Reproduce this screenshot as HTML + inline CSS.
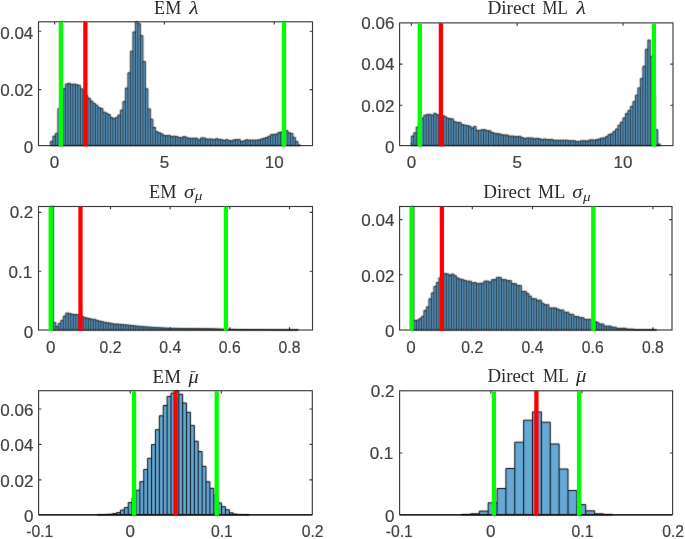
<!DOCTYPE html>
<html><head><meta charset="utf-8"><title>Histograms</title>
<style>
html,body{margin:0;padding:0;background:#fff;}
body{width:685px;height:539px;overflow:hidden;}
svg{display:block;will-change:transform;}
.tl{font-family:"Liberation Sans", sans-serif;font-size:17.0px;fill:#424242;stroke:#424242;stroke-width:0.2px;}
.tt{font-family:"Liberation Serif", serif;font-size:18.4px;fill:#2a2a2a;}
.ti{font-family:"Liberation Serif", serif;font-size:18.4px;font-style:italic;fill:#2a2a2a;}
.ts{font-family:"Liberation Serif", serif;font-size:12.5px;font-style:italic;fill:#2a2a2a;}
</style></head><body>
<svg width="685" height="539" viewBox="0 0 685 539">
<defs><filter id="bl" x="-2%" y="-5%" width="104%" height="110%" color-interpolation-filters="sRGB"><feConvolveMatrix order="3" kernelMatrix="0.03 0.12 0.03 0.12 0.40 0.12 0.03 0.12 0.03" edgeMode="none" preserveAlpha="false"/></filter><filter id="bl2" x="-2%" y="-5%" width="104%" height="110%" color-interpolation-filters="sRGB"><feConvolveMatrix order="3" kernelMatrix="0.015 0.085 0.015 0.085 0.60 0.085 0.015 0.085 0.015" edgeMode="none" preserveAlpha="false"/></filter></defs>
<rect width="685" height="539" fill="#fff"/>
<g>
<rect x="38.5" y="21.8" width="274.00" height="123.80" fill="#fff" stroke="#3c3c3c" stroke-width="1.15"/>
<path d="M54.6 145.6v-2.8M54.6 21.8v2.8" stroke="#3c3c3c" stroke-width="1.15" fill="none"/>
<path d="M164.4 145.6v-2.8M164.4 21.8v2.8" stroke="#3c3c3c" stroke-width="1.15" fill="none"/>
<path d="M274.2 145.6v-2.8M274.2 21.8v2.8" stroke="#3c3c3c" stroke-width="1.15" fill="none"/>
<path d="M38.5 31.2h2.8M312.5 31.2h-2.8" stroke="#3c3c3c" stroke-width="1.15" fill="none"/>
<path d="M38.5 89.6h2.8M312.5 89.6h-2.8" stroke="#3c3c3c" stroke-width="1.15" fill="none"/>
<g filter="url(#bl)"><path d="M50.40 145.60V141.40H52.90V136.10H55.40V133.40H57.90V108.60H60.40V95.60H62.90V88.60H65.40V84.00H67.90V83.30H70.40V84.40H72.90V84.00H75.40V84.60H77.90V85.30H80.40V88.80H82.90V90.90H85.40V95.80H87.90V98.30H90.40V101.10H92.90V103.40H95.40V105.20H97.90V107.60H100.40V108.60H102.90V112.20H105.40V113.20H107.90V114.60H110.40V117.50H112.90V118.70H115.40V117.50H117.90V115.00H120.40V110.10H122.90V101.60H125.40V88.10H127.90V72.80H130.40V51.20H132.90V32.00H135.40V21.80H137.90V23.60H140.40V35.60H142.90V61.60H145.40V88.80H147.90V108.90H150.40V119.20H152.90V127.50H155.40V131.60H157.90V132.70H160.40V133.80H162.90V135.40H165.40V135.60H167.90V135.40H170.40V136.50H172.90V136.20H175.40V136.50H177.90V137.40H180.40V137.60H182.90V136.50H185.40V137.40H187.90V138.20H190.40V138.20H192.90V138.20H195.40V138.20H197.90V140.00H200.40V137.90H202.90V137.90H205.40V139.00H207.90V139.00H210.40V139.00H212.90V139.60H215.40V138.70H217.90V139.40H220.40V139.60H222.90V140.50H225.40V139.60H227.90V140.50H230.40V140.70H232.90V139.80H235.40V139.60H237.90V139.60H240.40V141.50H242.90V140.70H245.40V139.80H247.90V140.10H250.40V140.10H252.90V140.10H255.40V140.10H257.90V139.80H260.40V139.00H262.90V138.30H265.40V137.50H267.90V136.40H270.40V134.50H272.90V134.30H275.40V134.00H277.90V132.50H280.40V131.90H282.90V131.10H285.40V130.50H287.90V132.80H290.40V133.40H292.90V137.40H295.40V141.40H297.90V145.00H300.40V145.60Z" fill="#66a9d6" stroke="none"/><path d="M50.40 145.60V141.40H52.90V136.10H55.40V133.40H57.90V108.60H60.40V95.60H62.90V88.60H65.40V84.00H67.90V83.30H70.40V84.40H72.90V84.00H75.40V84.60H77.90V85.30H80.40V88.80H82.90V90.90H85.40V95.80H87.90V98.30H90.40V101.10H92.90V103.40H95.40V105.20H97.90V107.60H100.40V108.60H102.90V112.20H105.40V113.20H107.90V114.60H110.40V117.50H112.90V118.70H115.40V117.50H117.90V115.00H120.40V110.10H122.90V101.60H125.40V88.10H127.90V72.80H130.40V51.20H132.90V32.00H135.40V21.80H137.90V23.60H140.40V35.60H142.90V61.60H145.40V88.80H147.90V108.90H150.40V119.20H152.90V127.50H155.40V131.60H157.90V132.70H160.40V133.80H162.90V135.40H165.40V135.60H167.90V135.40H170.40V136.50H172.90V136.20H175.40V136.50H177.90V137.40H180.40V137.60H182.90V136.50H185.40V137.40H187.90V138.20H190.40V138.20H192.90V138.20H195.40V138.20H197.90V140.00H200.40V137.90H202.90V137.90H205.40V139.00H207.90V139.00H210.40V139.00H212.90V139.60H215.40V138.70H217.90V139.40H220.40V139.60H222.90V140.50H225.40V139.60H227.90V140.50H230.40V140.70H232.90V139.80H235.40V139.60H237.90V139.60H240.40V141.50H242.90V140.70H245.40V139.80H247.90V140.10H250.40V140.10H252.90V140.10H255.40V140.10H257.90V139.80H260.40V139.00H262.90V138.30H265.40V137.50H267.90V136.40H270.40V134.50H272.90V134.30H275.40V134.00H277.90V132.50H280.40V131.90H282.90V131.10H285.40V130.50H287.90V132.80H290.40V133.40H292.90V137.40H295.40V141.40H297.90V145.00H300.40V145.60ZM52.90 145.60V141.40M55.40 145.60V136.10M57.90 145.60V133.40M60.40 145.60V108.60M62.90 145.60V95.60M65.40 145.60V88.60M67.90 145.60V84.00M70.40 145.60V84.40M72.90 145.60V84.40M75.40 145.60V84.60M77.90 145.60V85.30M80.40 145.60V88.80M82.90 145.60V90.90M85.40 145.60V95.80M87.90 145.60V98.30M90.40 145.60V101.10M92.90 145.60V103.40M95.40 145.60V105.20M97.90 145.60V107.60M100.40 145.60V108.60M102.90 145.60V112.20M105.40 145.60V113.20M107.90 145.60V114.60M110.40 145.60V117.50M112.90 145.60V118.70M115.40 145.60V118.70M117.90 145.60V117.50M120.40 145.60V115.00M122.90 145.60V110.10M125.40 145.60V101.60M127.90 145.60V88.10M130.40 145.60V72.80M132.90 145.60V51.20M135.40 145.60V32.00M137.90 145.60V23.60M140.40 145.60V35.60M142.90 145.60V61.60M145.40 145.60V88.80M147.90 145.60V108.90M150.40 145.60V119.20M152.90 145.60V127.50M155.40 145.60V131.60M157.90 145.60V132.70M160.40 145.60V133.80M162.90 145.60V135.40M165.40 145.60V135.60M167.90 145.60V135.60M170.40 145.60V136.50M172.90 145.60V136.50M175.40 145.60V136.50M177.90 145.60V137.40M180.40 145.60V137.60M182.90 145.60V137.60M185.40 145.60V137.40M187.90 145.60V138.20M190.40 145.60V138.20M192.90 145.60V138.20M195.40 145.60V138.20M197.90 145.60V140.00M200.40 145.60V140.00M202.90 145.60V137.90M205.40 145.60V139.00M207.90 145.60V139.00M210.40 145.60V139.00M212.90 145.60V139.60M215.40 145.60V139.60M217.90 145.60V139.40M220.40 145.60V139.60M222.90 145.60V140.50M225.40 145.60V140.50M227.90 145.60V140.50M230.40 145.60V140.70M232.90 145.60V140.70M235.40 145.60V139.80M237.90 145.60V139.60M240.40 145.60V141.50M242.90 145.60V141.50M245.40 145.60V140.70M247.90 145.60V140.10M250.40 145.60V140.10M252.90 145.60V140.10M255.40 145.60V140.10M257.90 145.60V140.10M260.40 145.60V139.80M262.90 145.60V139.00M265.40 145.60V138.30M267.90 145.60V137.50M270.40 145.60V136.40M272.90 145.60V134.50M275.40 145.60V134.30M277.90 145.60V134.00M280.40 145.60V132.50M282.90 145.60V131.90M285.40 145.60V131.10M287.90 145.60V132.80M290.40 145.60V133.40M292.90 145.60V137.40M295.40 145.60V141.40M297.90 145.60V145.00" fill="none" stroke="#000000" stroke-width="0.87" stroke-linejoin="miter"/></g>
<rect x="58.75" y="22.00" width="4.3" height="124.40" fill="#00ff00"/>
<rect x="281.85" y="22.00" width="4.3" height="124.40" fill="#00ff00"/>
<rect x="83.25" y="22.00" width="4.3" height="124.40" fill="#ff0000"/>
<text x="54.6" y="168.10" text-anchor="middle" class="tl">0</text>
<text x="164.4" y="168.10" text-anchor="middle" class="tl">5</text>
<text x="274.2" y="168.10" text-anchor="middle" class="tl">10</text>
<text x="33.30" y="38.90" text-anchor="end" class="tl">0.04</text>
<text x="33.30" y="95.80" text-anchor="end" class="tl">0.02</text>
<text x="33.30" y="153.10" text-anchor="end" class="tl">0</text>
<!--title-->
<text x="154.1" y="13.9" class="tt" textLength="27.2" lengthAdjust="spacingAndGlyphs">EM</text><text x="189.2" y="13.9" class="ti" textLength="9.3" lengthAdjust="spacingAndGlyphs">λ</text>
</g>
<g>
<rect x="399.6" y="22.9" width="273.40" height="122.70" fill="#fff" stroke="#3c3c3c" stroke-width="1.15"/>
<path d="M411.4 145.6v-2.8M411.4 22.9v2.8" stroke="#3c3c3c" stroke-width="1.15" fill="none"/>
<path d="M517.2 145.6v-2.8M517.2 22.9v2.8" stroke="#3c3c3c" stroke-width="1.15" fill="none"/>
<path d="M623.0 145.6v-2.8M623.0 22.9v2.8" stroke="#3c3c3c" stroke-width="1.15" fill="none"/>
<path d="M399.6 64.2h2.8M673.0 64.2h-2.8" stroke="#3c3c3c" stroke-width="1.15" fill="none"/>
<path d="M399.6 105.2h2.8M673.0 105.2h-2.8" stroke="#3c3c3c" stroke-width="1.15" fill="none"/>
<g filter="url(#bl)"><path d="M411.30 145.60V136.10H413.79V132.80H416.28V127.00H418.77V121.60H421.26V118.20H423.75V115.30H426.24V114.40H428.73V114.40H431.22V115.30H433.71V113.30H436.20V114.70H438.69V115.10H441.18V115.30H443.67V116.40H446.16V118.00H448.65V118.60H451.14V118.90H453.63V121.80H456.12V122.40H458.61V122.40H461.10V124.60H463.59V125.10H466.08V125.50H468.57V126.20H471.06V128.00H473.55V126.40H476.04V130.30H478.53V130.30H481.02V129.70H483.51V129.70H486.00V130.60H488.49V130.80H490.98V132.50H493.47V133.20H495.96V133.60H498.45V133.90H500.94V134.70H503.43V135.00H505.92V135.00H508.41V136.10H510.90V136.10H513.39V136.30H515.88V136.80H518.37V136.30H520.86V137.40H523.35V138.50H525.84V137.90H528.33V137.90H530.82V137.90H533.31V138.70H535.80V138.30H538.29V138.70H540.78V139.60H543.27V139.00H545.76V139.50H548.25V139.50H550.74V139.50H553.23V140.20H555.72V140.20H558.21V140.20H560.70V140.20H563.19V140.20H565.68V140.20H568.17V140.70H570.66V140.70H573.15V140.70H575.64V141.40H578.13V141.40H580.62V140.70H583.11V140.70H585.60V141.00H588.09V140.20H590.58V139.80H593.07V140.20H595.56V139.60H598.05V139.00H600.54V138.00H603.03V138.00H605.52V136.60H608.01V134.50H610.50V133.80H612.99V131.50H615.48V129.00H617.97V125.10H620.46V122.10H622.95V117.90H625.44V113.60H627.93V110.40H630.42V106.40H632.91V101.60H635.40V95.20H637.89V87.90H640.38V78.60H642.87V66.30H645.36V49.30H647.85V40.10H650.34V56.60H652.83V95.60H655.32V129.80H657.81V144.10H660.30V145.60Z" fill="#66a9d6" stroke="none"/><path d="M411.30 145.60V136.10H413.79V132.80H416.28V127.00H418.77V121.60H421.26V118.20H423.75V115.30H426.24V114.40H428.73V114.40H431.22V115.30H433.71V113.30H436.20V114.70H438.69V115.10H441.18V115.30H443.67V116.40H446.16V118.00H448.65V118.60H451.14V118.90H453.63V121.80H456.12V122.40H458.61V122.40H461.10V124.60H463.59V125.10H466.08V125.50H468.57V126.20H471.06V128.00H473.55V126.40H476.04V130.30H478.53V130.30H481.02V129.70H483.51V129.70H486.00V130.60H488.49V130.80H490.98V132.50H493.47V133.20H495.96V133.60H498.45V133.90H500.94V134.70H503.43V135.00H505.92V135.00H508.41V136.10H510.90V136.10H513.39V136.30H515.88V136.80H518.37V136.30H520.86V137.40H523.35V138.50H525.84V137.90H528.33V137.90H530.82V137.90H533.31V138.70H535.80V138.30H538.29V138.70H540.78V139.60H543.27V139.00H545.76V139.50H548.25V139.50H550.74V139.50H553.23V140.20H555.72V140.20H558.21V140.20H560.70V140.20H563.19V140.20H565.68V140.20H568.17V140.70H570.66V140.70H573.15V140.70H575.64V141.40H578.13V141.40H580.62V140.70H583.11V140.70H585.60V141.00H588.09V140.20H590.58V139.80H593.07V140.20H595.56V139.60H598.05V139.00H600.54V138.00H603.03V138.00H605.52V136.60H608.01V134.50H610.50V133.80H612.99V131.50H615.48V129.00H617.97V125.10H620.46V122.10H622.95V117.90H625.44V113.60H627.93V110.40H630.42V106.40H632.91V101.60H635.40V95.20H637.89V87.90H640.38V78.60H642.87V66.30H645.36V49.30H647.85V40.10H650.34V56.60H652.83V95.60H655.32V129.80H657.81V144.10H660.30V145.60ZM413.79 145.60V136.10M416.28 145.60V132.80M418.77 145.60V127.00M421.26 145.60V121.60M423.75 145.60V118.20M426.24 145.60V115.30M428.73 145.60V114.40M431.22 145.60V115.30M433.71 145.60V115.30M436.20 145.60V114.70M438.69 145.60V115.10M441.18 145.60V115.30M443.67 145.60V116.40M446.16 145.60V118.00M448.65 145.60V118.60M451.14 145.60V118.90M453.63 145.60V121.80M456.12 145.60V122.40M458.61 145.60V122.40M461.10 145.60V124.60M463.59 145.60V125.10M466.08 145.60V125.50M468.57 145.60V126.20M471.06 145.60V128.00M473.55 145.60V128.00M476.04 145.60V130.30M478.53 145.60V130.30M481.02 145.60V130.30M483.51 145.60V129.70M486.00 145.60V130.60M488.49 145.60V130.80M490.98 145.60V132.50M493.47 145.60V133.20M495.96 145.60V133.60M498.45 145.60V133.90M500.94 145.60V134.70M503.43 145.60V135.00M505.92 145.60V135.00M508.41 145.60V136.10M510.90 145.60V136.10M513.39 145.60V136.30M515.88 145.60V136.80M518.37 145.60V136.80M520.86 145.60V137.40M523.35 145.60V138.50M525.84 145.60V138.50M528.33 145.60V137.90M530.82 145.60V137.90M533.31 145.60V138.70M535.80 145.60V138.70M538.29 145.60V138.70M540.78 145.60V139.60M543.27 145.60V139.60M545.76 145.60V139.50M548.25 145.60V139.50M550.74 145.60V139.50M553.23 145.60V140.20M555.72 145.60V140.20M558.21 145.60V140.20M560.70 145.60V140.20M563.19 145.60V140.20M565.68 145.60V140.20M568.17 145.60V140.70M570.66 145.60V140.70M573.15 145.60V140.70M575.64 145.60V141.40M578.13 145.60V141.40M580.62 145.60V141.40M583.11 145.60V140.70M585.60 145.60V141.00M588.09 145.60V141.00M590.58 145.60V140.20M593.07 145.60V140.20M595.56 145.60V140.20M598.05 145.60V139.60M600.54 145.60V139.00M603.03 145.60V138.00M605.52 145.60V138.00M608.01 145.60V136.60M610.50 145.60V134.50M612.99 145.60V133.80M615.48 145.60V131.50M617.97 145.60V129.00M620.46 145.60V125.10M622.95 145.60V122.10M625.44 145.60V117.90M627.93 145.60V113.60M630.42 145.60V110.40M632.91 145.60V106.40M635.40 145.60V101.60M637.89 145.60V95.20M640.38 145.60V87.90M642.87 145.60V78.60M645.36 145.60V66.30M647.85 145.60V49.30M650.34 145.60V56.60M652.83 145.60V95.60M655.32 145.60V129.80M657.81 145.60V144.10" fill="none" stroke="#000000" stroke-width="0.87" stroke-linejoin="miter"/></g>
<rect x="417.65" y="23.10" width="4.3" height="123.30" fill="#00ff00"/>
<rect x="651.75" y="23.10" width="4.3" height="123.30" fill="#00ff00"/>
<rect x="438.75" y="23.10" width="4.3" height="123.30" fill="#ff0000"/>
<text x="411.4" y="168.10" text-anchor="middle" class="tl">0</text>
<text x="517.2" y="168.10" text-anchor="middle" class="tl">5</text>
<text x="623.0" y="168.10" text-anchor="middle" class="tl">10</text>
<text x="394.40" y="28.70" text-anchor="end" class="tl">0.06</text>
<text x="394.40" y="70.35" text-anchor="end" class="tl">0.04</text>
<text x="394.40" y="112.20" text-anchor="end" class="tl">0.02</text>
<text x="394.40" y="153.40" text-anchor="end" class="tl">0</text>
<!--title-->
<text x="487.4" y="13.9" class="tt" textLength="48.0" lengthAdjust="spacingAndGlyphs">Direct</text><text x="542.6" y="13.9" class="tt" textLength="25.1" lengthAdjust="spacingAndGlyphs">ML</text><text x="576.4" y="13.9" class="ti" textLength="9.5" lengthAdjust="spacingAndGlyphs">λ</text>
</g>
<g>
<rect x="38.5" y="206.5" width="274.00" height="123.50" fill="#fff" stroke="#3c3c3c" stroke-width="1.15"/>
<path d="M50.8 330.0v-2.8M50.8 206.5v2.8" stroke="#3c3c3c" stroke-width="1.15" fill="none"/>
<path d="M110.5 330.0v-2.8M110.5 206.5v2.8" stroke="#3c3c3c" stroke-width="1.15" fill="none"/>
<path d="M170.2 330.0v-2.8M170.2 206.5v2.8" stroke="#3c3c3c" stroke-width="1.15" fill="none"/>
<path d="M229.8 330.0v-2.8M229.8 206.5v2.8" stroke="#3c3c3c" stroke-width="1.15" fill="none"/>
<path d="M289.5 330.0v-2.8M289.5 206.5v2.8" stroke="#3c3c3c" stroke-width="1.15" fill="none"/>
<path d="M38.5 212.4h2.8M312.5 212.4h-2.8" stroke="#3c3c3c" stroke-width="1.15" fill="none"/>
<path d="M38.5 271.2h2.8M312.5 271.2h-2.8" stroke="#3c3c3c" stroke-width="1.15" fill="none"/>
<g filter="url(#bl)"><path d="M50.80 330.00V206.50H53.30V322.60H55.80V326.50H58.30V323.40H60.80V320.40H63.30V316.10H65.80V313.00H68.30V313.40H70.80V314.10H73.30V314.50H75.80V314.50H78.30V315.20H80.80V316.30H83.30V317.40H85.80V318.00H88.30V318.50H90.80V319.30H93.30V319.30H95.80V320.40H98.30V321.00H100.80V321.50H103.30V322.30H105.80V322.70H108.30V322.90H110.80V323.60H113.30V324.00H115.80V324.00H118.30V324.24H120.80V324.47H123.30V324.71H125.80V324.95H128.30V325.22H130.80V325.50H133.30V325.77H135.80V326.05H138.30V326.32H140.80V326.56H143.30V326.73H145.80V326.90H148.30V327.07H150.80V327.24H153.30V327.41H155.80V327.56H158.30V327.69H160.80V327.82H163.30V327.95H165.80V328.08H168.30V328.21H170.80V328.28H173.30V328.32H175.80V328.36H178.30V328.41H180.80V328.45H183.30V328.49H185.80V328.52H188.30V328.53H190.80V328.55H193.30V328.57H195.80V328.59H198.30V328.61H200.80V328.63H203.30V328.64H205.80V328.66H208.30V328.68H210.80V328.70H213.30V328.80H215.80V328.89H218.30V328.99H220.80V329.09H223.30V329.18H225.80V329.24H228.30V329.29H230.80V329.34H233.30V329.39H235.80V329.44H238.30V329.49H240.80V329.52H243.30V329.54H245.80V329.56H248.30V329.58H250.80V329.60H253.30V329.62H255.80V329.64H258.30V329.66H260.80V329.68H263.30V329.70H265.80V329.71H268.30V329.71H270.80V329.72H273.30V329.73H275.80V329.73H278.30V329.74H280.80V329.75H283.30V329.76H285.80V329.76H288.30V329.77H290.80V329.78H293.30V329.78H295.80V329.79H298.30V330.00Z" fill="#66a9d6" stroke="none"/><path d="M50.80 330.00V206.50H53.30V322.60H55.80V326.50H58.30V323.40H60.80V320.40H63.30V316.10H65.80V313.00H68.30V313.40H70.80V314.10H73.30V314.50H75.80V314.50H78.30V315.20H80.80V316.30H83.30V317.40H85.80V318.00H88.30V318.50H90.80V319.30H93.30V319.30H95.80V320.40H98.30V321.00H100.80V321.50H103.30V322.30H105.80V322.70H108.30V322.90H110.80V323.60H113.30V324.00H115.80V324.00H118.30V324.24H120.80V324.47H123.30V324.71H125.80V324.95H128.30V325.22H130.80V325.50H133.30V325.77H135.80V326.05H138.30V326.32H140.80V326.56H143.30V326.73H145.80V326.90H148.30V327.07H150.80V327.24H153.30V327.41H155.80V327.56H158.30V327.69H160.80V327.82H163.30V327.95H165.80V328.08H168.30V328.21H170.80V328.28H173.30V328.32H175.80V328.36H178.30V328.41H180.80V328.45H183.30V328.49H185.80V328.52H188.30V328.53H190.80V328.55H193.30V328.57H195.80V328.59H198.30V328.61H200.80V328.63H203.30V328.64H205.80V328.66H208.30V328.68H210.80V328.70H213.30V328.80H215.80V328.89H218.30V328.99H220.80V329.09H223.30V329.18H225.80V329.24H228.30V329.29H230.80V329.34H233.30V329.39H235.80V329.44H238.30V329.49H240.80V329.52H243.30V329.54H245.80V329.56H248.30V329.58H250.80V329.60H253.30V329.62H255.80V329.64H258.30V329.66H260.80V329.68H263.30V329.70H265.80V329.71H268.30V329.71H270.80V329.72H273.30V329.73H275.80V329.73H278.30V329.74H280.80V329.75H283.30V329.76H285.80V329.76H288.30V329.77H290.80V329.78H293.30V329.78H295.80V329.79H298.30V330.00ZM53.30 330.00V322.60M55.80 330.00V326.50M58.30 330.00V326.50M60.80 330.00V323.40M63.30 330.00V320.40M65.80 330.00V316.10M68.30 330.00V313.40M70.80 330.00V314.10M73.30 330.00V314.50M75.80 330.00V314.50M78.30 330.00V315.20M80.80 330.00V316.30M83.30 330.00V317.40M85.80 330.00V318.00M88.30 330.00V318.50M90.80 330.00V319.30M93.30 330.00V319.30M95.80 330.00V320.40M98.30 330.00V321.00M100.80 330.00V321.50M103.30 330.00V322.30M105.80 330.00V322.70M108.30 330.00V322.90M110.80 330.00V323.60M113.30 330.00V324.00M115.80 330.00V324.00M118.30 330.00V324.24M120.80 330.00V324.47M123.30 330.00V324.71M125.80 330.00V324.95M128.30 330.00V325.22M130.80 330.00V325.50M133.30 330.00V325.77M135.80 330.00V326.05M138.30 330.00V326.32M140.80 330.00V326.56M143.30 330.00V326.73M145.80 330.00V326.90M148.30 330.00V327.07M150.80 330.00V327.24M153.30 330.00V327.41M155.80 330.00V327.56M158.30 330.00V327.69M160.80 330.00V327.82M163.30 330.00V327.95M165.80 330.00V328.08M168.30 330.00V328.21M170.80 330.00V328.28M173.30 330.00V328.32M175.80 330.00V328.36M178.30 330.00V328.41M180.80 330.00V328.45M183.30 330.00V328.49M185.80 330.00V328.52M188.30 330.00V328.53M190.80 330.00V328.55M193.30 330.00V328.57M195.80 330.00V328.59M198.30 330.00V328.61M200.80 330.00V328.63M203.30 330.00V328.64M205.80 330.00V328.66M208.30 330.00V328.68M210.80 330.00V328.70M213.30 330.00V328.80M215.80 330.00V328.89M218.30 330.00V328.99M220.80 330.00V329.09M223.30 330.00V329.18M225.80 330.00V329.24M228.30 330.00V329.29M230.80 330.00V329.34M233.30 330.00V329.39M235.80 330.00V329.44M238.30 330.00V329.49M240.80 330.00V329.52M243.30 330.00V329.54M245.80 330.00V329.56M248.30 330.00V329.58M250.80 330.00V329.60M253.30 330.00V329.62M255.80 330.00V329.64M258.30 330.00V329.66M260.80 330.00V329.68M263.30 330.00V329.70M265.80 330.00V329.71M268.30 330.00V329.71M270.80 330.00V329.72M273.30 330.00V329.73M275.80 330.00V329.73M278.30 330.00V329.74M280.80 330.00V329.75M283.30 330.00V329.76M285.80 330.00V329.76M288.30 330.00V329.77M290.80 330.00V329.78M293.30 330.00V329.78M295.80 330.00V329.79" fill="none" stroke="#000000" stroke-width="0.87" stroke-linejoin="miter"/></g>
<rect x="48.55" y="206.70" width="4.3" height="124.10" fill="#00ff00"/>
<rect x="223.75" y="206.70" width="4.3" height="124.10" fill="#00ff00"/>
<rect x="78.35" y="206.70" width="4.3" height="124.10" fill="#ff0000"/>
<text x="50.8" y="352.50" text-anchor="middle" class="tl">0</text>
<text x="110.5" y="352.50" text-anchor="middle" class="tl" textLength="21.86" lengthAdjust="spacingAndGlyphs">0.2</text>
<text x="170.2" y="352.50" text-anchor="middle" class="tl" textLength="21.86" lengthAdjust="spacingAndGlyphs">0.4</text>
<text x="229.8" y="352.50" text-anchor="middle" class="tl" textLength="21.86" lengthAdjust="spacingAndGlyphs">0.6</text>
<text x="289.5" y="352.50" text-anchor="middle" class="tl" textLength="21.86" lengthAdjust="spacingAndGlyphs">0.8</text>
<text x="33.30" y="218.10" text-anchor="end" class="tl">0.2</text>
<text x="32.20" y="277.85" text-anchor="end" class="tl">0.1</text>
<text x="33.30" y="337.50" text-anchor="end" class="tl">0</text>
<!--title-->
<text x="149.0" y="197.6" class="tt" textLength="27.4" lengthAdjust="spacingAndGlyphs">EM</text><text x="184.1" y="197.6" class="ti" textLength="10.2" lengthAdjust="spacingAndGlyphs">σ</text><text x="194.8" y="200.4" class="ts" textLength="7.6" lengthAdjust="spacingAndGlyphs">μ</text>
</g>
<g>
<rect x="399.6" y="206.5" width="272.40" height="123.50" fill="#fff" stroke="#3c3c3c" stroke-width="1.15"/>
<path d="M412.0 330.0v-2.8M412.0 206.5v2.8" stroke="#3c3c3c" stroke-width="1.15" fill="none"/>
<path d="M472.3 330.0v-2.8M472.3 206.5v2.8" stroke="#3c3c3c" stroke-width="1.15" fill="none"/>
<path d="M532.5 330.0v-2.8M532.5 206.5v2.8" stroke="#3c3c3c" stroke-width="1.15" fill="none"/>
<path d="M592.7 330.0v-2.8M592.7 206.5v2.8" stroke="#3c3c3c" stroke-width="1.15" fill="none"/>
<path d="M652.9 330.0v-2.8M652.9 206.5v2.8" stroke="#3c3c3c" stroke-width="1.15" fill="none"/>
<path d="M399.6 219.6h2.8M672.0 219.6h-2.8" stroke="#3c3c3c" stroke-width="1.15" fill="none"/>
<path d="M399.6 274.7h2.8M672.0 274.7h-2.8" stroke="#3c3c3c" stroke-width="1.15" fill="none"/>
<g filter="url(#bl)"><path d="M411.40 330.00V206.70H413.90V320.50H416.40V320.10H418.90V318.60H421.40V316.40H423.90V310.50H426.40V306.90H428.90V298.80H431.40V292.90H433.90V286.40H436.40V282.50H438.90V277.90H441.40V275.00H443.90V273.40H446.40V274.00H448.90V275.10H451.40V274.00H453.90V275.70H456.40V277.90H458.90V279.00H461.40V279.60H463.90V280.60H466.40V281.20H468.90V281.20H471.40V282.90H473.90V282.50H476.40V283.70H478.90V283.20H481.40V283.20H483.90V281.10H486.40V281.10H488.90V282.10H491.40V279.60H493.90V279.60H496.40V277.40H498.90V277.40H501.40V279.60H503.90V279.60H506.40V280.60H508.90V280.60H511.40V283.60H513.90V283.60H516.40V285.40H518.90V285.40H521.40V291.40H523.90V291.40H526.40V293.50H528.90V296.10H531.40V298.70H533.90V298.70H536.40V300.20H538.90V300.20H541.40V303.20H543.90V304.70H546.40V304.70H548.90V307.90H551.40V307.90H553.90V307.90H556.40V309.00H558.90V310.00H561.40V310.00H563.90V312.20H566.40V312.20H568.90V314.30H571.40V314.30H573.90V316.50H576.40V316.50H578.90V317.60H581.40V317.60H583.90V319.30H586.40V319.30H588.90V319.30H591.40V320.50H593.90V321.50H596.40V322.50H598.90V324.00H601.40V324.00H603.90V326.10H606.40V326.10H608.90V326.10H611.40V327.20H613.90V327.20H616.40V328.30H618.90V328.30H621.40V328.30H623.90V328.30H626.40V329.10H628.90V329.10H631.40V329.10H633.90V329.70H636.40V329.70H638.90V329.70H641.40V329.70H643.90V329.70H646.40V329.70H648.90V329.70H651.40V329.70H653.90V329.70H656.40V330.00Z" fill="#66a9d6" stroke="none"/><path d="M411.40 330.00V206.70H413.90V320.50H416.40V320.10H418.90V318.60H421.40V316.40H423.90V310.50H426.40V306.90H428.90V298.80H431.40V292.90H433.90V286.40H436.40V282.50H438.90V277.90H441.40V275.00H443.90V273.40H446.40V274.00H448.90V275.10H451.40V274.00H453.90V275.70H456.40V277.90H458.90V279.00H461.40V279.60H463.90V280.60H466.40V281.20H468.90V281.20H471.40V282.90H473.90V282.50H476.40V283.70H478.90V283.20H481.40V283.20H483.90V281.10H486.40V281.10H488.90V282.10H491.40V279.60H493.90V279.60H496.40V277.40H498.90V277.40H501.40V279.60H503.90V279.60H506.40V280.60H508.90V280.60H511.40V283.60H513.90V283.60H516.40V285.40H518.90V285.40H521.40V291.40H523.90V291.40H526.40V293.50H528.90V296.10H531.40V298.70H533.90V298.70H536.40V300.20H538.90V300.20H541.40V303.20H543.90V304.70H546.40V304.70H548.90V307.90H551.40V307.90H553.90V307.90H556.40V309.00H558.90V310.00H561.40V310.00H563.90V312.20H566.40V312.20H568.90V314.30H571.40V314.30H573.90V316.50H576.40V316.50H578.90V317.60H581.40V317.60H583.90V319.30H586.40V319.30H588.90V319.30H591.40V320.50H593.90V321.50H596.40V322.50H598.90V324.00H601.40V324.00H603.90V326.10H606.40V326.10H608.90V326.10H611.40V327.20H613.90V327.20H616.40V328.30H618.90V328.30H621.40V328.30H623.90V328.30H626.40V329.10H628.90V329.10H631.40V329.10H633.90V329.70H636.40V329.70H638.90V329.70H641.40V329.70H643.90V329.70H646.40V329.70H648.90V329.70H651.40V329.70H653.90V329.70H656.40V330.00ZM413.90 330.00V320.50M416.40 330.00V320.50M418.90 330.00V320.10M421.40 330.00V318.60M423.90 330.00V316.40M426.40 330.00V310.50M428.90 330.00V306.90M431.40 330.00V298.80M433.90 330.00V292.90M436.40 330.00V286.40M438.90 330.00V282.50M441.40 330.00V277.90M443.90 330.00V275.00M446.40 330.00V274.00M448.90 330.00V275.10M451.40 330.00V275.10M453.90 330.00V275.70M456.40 330.00V277.90M458.90 330.00V279.00M461.40 330.00V279.60M463.90 330.00V280.60M466.40 330.00V281.20M468.90 330.00V281.20M471.40 330.00V282.90M473.90 330.00V282.90M476.40 330.00V283.70M478.90 330.00V283.70M481.40 330.00V283.20M483.90 330.00V283.20M486.40 330.00V281.10M488.90 330.00V282.10M491.40 330.00V282.10M493.90 330.00V279.60M496.40 330.00V279.60M498.90 330.00V277.40M501.40 330.00V279.60M503.90 330.00V279.60M506.40 330.00V280.60M508.90 330.00V280.60M511.40 330.00V283.60M513.90 330.00V283.60M516.40 330.00V285.40M518.90 330.00V285.40M521.40 330.00V291.40M523.90 330.00V291.40M526.40 330.00V293.50M528.90 330.00V296.10M531.40 330.00V298.70M533.90 330.00V298.70M536.40 330.00V300.20M538.90 330.00V300.20M541.40 330.00V303.20M543.90 330.00V304.70M546.40 330.00V304.70M548.90 330.00V307.90M551.40 330.00V307.90M553.90 330.00V307.90M556.40 330.00V309.00M558.90 330.00V310.00M561.40 330.00V310.00M563.90 330.00V312.20M566.40 330.00V312.20M568.90 330.00V314.30M571.40 330.00V314.30M573.90 330.00V316.50M576.40 330.00V316.50M578.90 330.00V317.60M581.40 330.00V317.60M583.90 330.00V319.30M586.40 330.00V319.30M588.90 330.00V319.30M591.40 330.00V320.50M593.90 330.00V321.50M596.40 330.00V322.50M598.90 330.00V324.00M601.40 330.00V324.00M603.90 330.00V326.10M606.40 330.00V326.10M608.90 330.00V326.10M611.40 330.00V327.20M613.90 330.00V327.20M616.40 330.00V328.30M618.90 330.00V328.30M621.40 330.00V328.30M623.90 330.00V328.30M626.40 330.00V329.10M628.90 330.00V329.10M631.40 330.00V329.10M633.90 330.00V329.70M636.40 330.00V329.70M638.90 330.00V329.70M641.40 330.00V329.70M643.90 330.00V329.70M646.40 330.00V329.70M648.90 330.00V329.70M651.40 330.00V329.70M653.90 330.00V329.70" fill="none" stroke="#000000" stroke-width="0.87" stroke-linejoin="miter"/></g>
<rect x="409.45" y="206.70" width="4.3" height="124.10" fill="#00ff00"/>
<rect x="591.15" y="206.70" width="4.3" height="124.10" fill="#00ff00"/>
<rect x="439.75" y="206.70" width="4.3" height="124.10" fill="#ff0000"/>
<text x="411.0" y="352.50" text-anchor="middle" class="tl">0</text>
<text x="472.3" y="352.50" text-anchor="middle" class="tl" textLength="21.86" lengthAdjust="spacingAndGlyphs">0.2</text>
<text x="532.5" y="352.50" text-anchor="middle" class="tl" textLength="21.86" lengthAdjust="spacingAndGlyphs">0.4</text>
<text x="592.7" y="352.50" text-anchor="middle" class="tl" textLength="21.86" lengthAdjust="spacingAndGlyphs">0.6</text>
<text x="652.9" y="352.50" text-anchor="middle" class="tl" textLength="21.86" lengthAdjust="spacingAndGlyphs">0.8</text>
<text x="394.40" y="226.40" text-anchor="end" class="tl">0.04</text>
<text x="394.40" y="282.40" text-anchor="end" class="tl">0.02</text>
<text x="394.40" y="337.00" text-anchor="end" class="tl">0</text>
<!--title-->
<text x="483.3" y="197.9" class="tt" textLength="47.4" lengthAdjust="spacingAndGlyphs">Direct</text><text x="538.1" y="197.9" class="tt" textLength="27.2" lengthAdjust="spacingAndGlyphs">ML</text><text x="572.2" y="197.9" class="ti" textLength="10.2" lengthAdjust="spacingAndGlyphs">σ</text><text x="583.0" y="200.70000000000002" class="ts" textLength="7.6" lengthAdjust="spacingAndGlyphs">μ</text>
</g>
<g>
<rect x="38.6" y="390.7" width="273.70" height="124.10" fill="#fff" stroke="#3c3c3c" stroke-width="1.15"/>
<path d="M130.2 514.8v-2.8M130.2 390.7v2.8" stroke="#3c3c3c" stroke-width="1.15" fill="none"/>
<path d="M221.3 514.8v-2.8M221.3 390.7v2.8" stroke="#3c3c3c" stroke-width="1.15" fill="none"/>
<path d="M38.6 409.0h2.8M312.3 409.0h-2.8" stroke="#3c3c3c" stroke-width="1.15" fill="none"/>
<path d="M38.6 444.4h2.8M312.3 444.4h-2.8" stroke="#3c3c3c" stroke-width="1.15" fill="none"/>
<path d="M38.6 479.9h2.8M312.3 479.9h-2.8" stroke="#3c3c3c" stroke-width="1.15" fill="none"/>
<g filter="url(#bl2)"><path d="M97.09 514.80V514.60H100.98V514.50H104.87V514.40H108.76V514.20H112.65V513.60H116.54V512.60H120.43V510.10H124.32V507.60H128.21V502.60H132.10V497.80H135.99V490.20H139.88V481.70H143.77V469.40H147.66V458.30H151.55V444.60H155.44V429.70H159.33V415.80H163.22V405.50H167.11V396.40H171.00V393.10H174.89V391.00H178.78V394.30H182.67V403.00H186.56V412.30H190.45V425.40H194.34V441.20H198.23V451.50H202.12V466.30H206.01V481.70H209.90V488.30H213.79V495.20H217.68V502.90H221.57V506.70H225.46V509.70H229.35V512.80H233.24V514.05H237.13V514.40H241.02V514.50H244.91V514.60H248.80V514.80Z" fill="#66a9d6" stroke="none"/><path d="M97.09 514.80V514.60H100.98V514.50H104.87V514.40H108.76V514.20H112.65V513.60H116.54V512.60H120.43V510.10H124.32V507.60H128.21V502.60H132.10V497.80H135.99V490.20H139.88V481.70H143.77V469.40H147.66V458.30H151.55V444.60H155.44V429.70H159.33V415.80H163.22V405.50H167.11V396.40H171.00V393.10H174.89V391.00H178.78V394.30H182.67V403.00H186.56V412.30H190.45V425.40H194.34V441.20H198.23V451.50H202.12V466.30H206.01V481.70H209.90V488.30H213.79V495.20H217.68V502.90H221.57V506.70H225.46V509.70H229.35V512.80H233.24V514.05H237.13V514.40H241.02V514.50H244.91V514.60H248.80V514.80ZM100.98 514.80V514.60M104.87 514.80V514.50M108.76 514.80V514.40M112.65 514.80V514.20M116.54 514.80V513.60M120.43 514.80V512.60M124.32 514.80V510.10M128.21 514.80V507.60M132.10 514.80V502.60M135.99 514.80V497.80M139.88 514.80V490.20M143.77 514.80V481.70M147.66 514.80V469.40M151.55 514.80V458.30M155.44 514.80V444.60M159.33 514.80V429.70M163.22 514.80V415.80M167.11 514.80V405.50M171.00 514.80V396.40M174.89 514.80V393.10M178.78 514.80V394.30M182.67 514.80V403.00M186.56 514.80V412.30M190.45 514.80V425.40M194.34 514.80V441.20M198.23 514.80V451.50M202.12 514.80V466.30M206.01 514.80V481.70M209.90 514.80V488.30M213.79 514.80V495.20M217.68 514.80V502.90M221.57 514.80V506.70M225.46 514.80V509.70M229.35 514.80V512.80M233.24 514.80V514.05M237.13 514.80V514.40M241.02 514.80V514.50M244.91 514.80V514.60" fill="none" stroke="#000000" stroke-width="0.97" stroke-linejoin="miter"/></g>
<path d="M39 514.8H312" stroke="#111" stroke-width="1.3"/>
<rect x="131.95" y="390.90" width="4.3" height="124.70" fill="#00ff00"/>
<rect x="214.55" y="390.90" width="4.3" height="124.70" fill="#00ff00"/>
<rect x="173.45" y="390.90" width="4.3" height="124.70" fill="#ff0000"/>
<text x="39.800000000000004" y="537.30" text-anchor="middle" class="tl" textLength="27.10" lengthAdjust="spacingAndGlyphs">-0.1</text>
<text x="130.2" y="537.30" text-anchor="middle" class="tl">0</text>
<text x="221.9" y="537.30" text-anchor="middle" class="tl" textLength="21.86" lengthAdjust="spacingAndGlyphs">0.1</text>
<text x="312.6" y="537.30" text-anchor="middle" class="tl" textLength="21.86" lengthAdjust="spacingAndGlyphs">0.2</text>
<text x="33.40" y="415.90" text-anchor="end" class="tl">0.06</text>
<text x="33.40" y="451.00" text-anchor="end" class="tl">0.04</text>
<text x="33.40" y="486.50" text-anchor="end" class="tl">0.02</text>
<text x="33.40" y="522.25" text-anchor="end" class="tl">0</text>
<!--title-->
<text x="152.6" y="382.5" class="tt" textLength="28.4" lengthAdjust="spacingAndGlyphs">EM</text><text x="188.4" y="382.5" class="ti" textLength="10.2" lengthAdjust="spacingAndGlyphs">μ</text><path d="M190.8 371.7h4.6" stroke="#111" stroke-width="0.8"/>
</g>
<g>
<rect x="399.6" y="390.8" width="273.00" height="124.00" fill="#fff" stroke="#3c3c3c" stroke-width="1.15"/>
<path d="M490.8 514.8v-2.8M490.8 390.8v2.8" stroke="#3c3c3c" stroke-width="1.15" fill="none"/>
<path d="M581.9 514.8v-2.8M581.9 390.8v2.8" stroke="#3c3c3c" stroke-width="1.15" fill="none"/>
<path d="M399.6 453.0h2.8M672.6 453.0h-2.8" stroke="#3c3c3c" stroke-width="1.15" fill="none"/>
<g filter="url(#bl2)"><path d="M461.56 514.80V514.40H470.43V513.80H479.30V511.10H488.17V502.80H497.04V488.50H505.91V468.50H514.78V442.20H523.65V420.20H532.52V411.90H541.39V422.20H550.26V444.00H559.13V469.00H568.00V490.50H576.87V504.60H585.74V510.80H594.61V513.80H603.48V514.40H612.35V514.80Z" fill="#66a9d6" stroke="none"/><path d="M461.56 514.80V514.40H470.43V513.80H479.30V511.10H488.17V502.80H497.04V488.50H505.91V468.50H514.78V442.20H523.65V420.20H532.52V411.90H541.39V422.20H550.26V444.00H559.13V469.00H568.00V490.50H576.87V504.60H585.74V510.80H594.61V513.80H603.48V514.40H612.35V514.80ZM470.43 514.80V514.40M479.30 514.80V513.80M488.17 514.80V511.10M497.04 514.80V502.80M505.91 514.80V488.50M514.78 514.80V468.50M523.65 514.80V442.20M532.52 514.80V420.20M541.39 514.80V422.20M550.26 514.80V444.00M559.13 514.80V469.00M568.00 514.80V490.50M576.87 514.80V504.60M585.74 514.80V510.80M594.61 514.80V513.80M603.48 514.80V514.40" fill="none" stroke="#000000" stroke-width="0.97" stroke-linejoin="miter"/></g>
<path d="M400 514.8H672" stroke="#111" stroke-width="1.3"/>
<rect x="491.75" y="391.00" width="4.3" height="124.60" fill="#00ff00"/>
<rect x="576.95" y="391.00" width="4.3" height="124.60" fill="#00ff00"/>
<rect x="534.25" y="391.00" width="4.3" height="124.60" fill="#ff0000"/>
<text x="399.3" y="537.30" text-anchor="middle" class="tl" textLength="27.10" lengthAdjust="spacingAndGlyphs">-0.1</text>
<text x="490.8" y="537.30" text-anchor="middle" class="tl">0</text>
<text x="582.5" y="537.30" text-anchor="middle" class="tl" textLength="21.86" lengthAdjust="spacingAndGlyphs">0.1</text>
<text x="673.1" y="537.30" text-anchor="middle" class="tl" textLength="21.86" lengthAdjust="spacingAndGlyphs">0.2</text>
<text x="394.40" y="397.40" text-anchor="end" class="tl">0.2</text>
<text x="393.30" y="458.90" text-anchor="end" class="tl">0.1</text>
<text x="394.40" y="522.40" text-anchor="end" class="tl">0</text>
<!--title-->
<text x="487.4" y="382.4" class="tt" textLength="47.0" lengthAdjust="spacingAndGlyphs">Direct</text><text x="543.0" y="382.4" class="tt" textLength="25.6" lengthAdjust="spacingAndGlyphs">ML</text><text x="576.0" y="382.4" class="ti" textLength="10.4" lengthAdjust="spacingAndGlyphs">μ</text><path d="M578.4 371.6h4.6" stroke="#111" stroke-width="0.8"/>
</g>
</svg>
</body></html>
